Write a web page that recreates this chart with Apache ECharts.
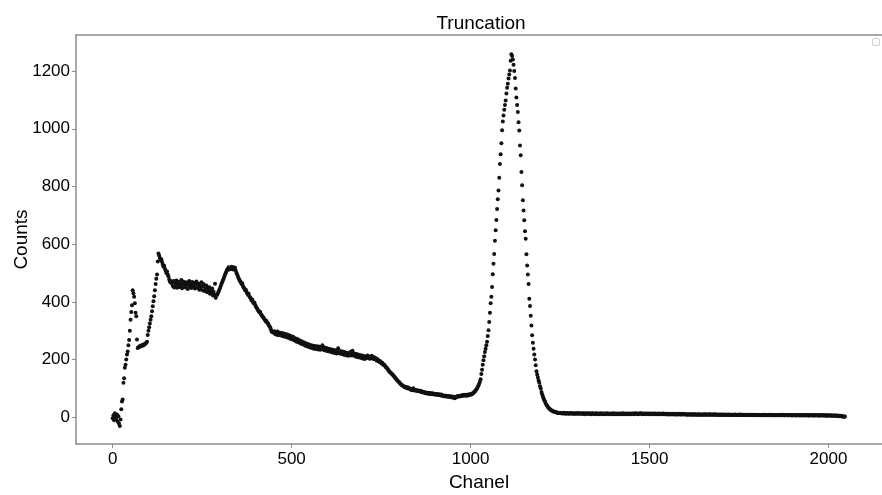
<!DOCTYPE html>
<html>
<head>
<meta charset="utf-8">
<script src="https://cdn.jsdelivr.net/npm/echarts@6/dist/echarts.min.js"></script>
<style>
html,body{margin:0;padding:0;background:#fff;}
#chart{width:882px;height:495px;}
</style>
</head>
<body>
<div id="chart"></div>
<script>
// Channel spacing of the recorded spectrum
const channelStep = 2;

// Counts, segment by segment (start channel + values every 2 channels)
const startA = 0;
const countsA = [-3,6,-10,14,2,-6,10,-15,4,-22,-30,-8,28,55,62,120,135,172,182,200,218,228,250,268,300,338,365,388,440,430,418,395,362,350,270,240,243,244,247,245,249,250,248,252,251,254,256,258,262,285,300,312,325,338,350,368,385,402,420,440,462,480,495,540,568,560,552,545,548,538,530,522,525,515,508,500,505,495,488,478,470,472,465];

const startB = 166;
const countsB = [468,455,472,450,466,458,474,449,462,470,452,465,458,476,447,463,470,455,461,450,468,459,445,466,472,453,460,448,469,457,451,466,446,460,471,449,456,463,442,458,450,468,441,455,462,438,452,444,457,433,448,438,451,428,442,432,446,422,435,426,463,414,424];

const startC = 292;
const countsC = [425,430,436,442,448,455,462,468,475,480,488,495,500,506,512,515,520,512,518,515,522,516,512,520,515,518,508,500,495,488,482,476,472,468,462,465,455,450,446,440,442,435,430,425,428,420,415,412,405,408,400,395,398,390,385,380,376,372,368,364,366,358,355,350,348,344,340,336,332,334,328,325,320,316,312,305,298,295,296,293];

const startD = 452;
const countsD = [298,289,295,286,297,290,284,294,288,291,
283,292,286,280,290,284,278,288,281,276,
285,279,272,282,275,270,279,272,266,274,
268,262,271,264,259,267,261,255,264,257,
252,260,254,248,257,250,245,254,248,243,
251,245,240,249,243,238,247,242,237,246,
240,235,245,239,234,243,237,250,238,233,
242,236,231,240,234,229,238,232,227,236,
230,225,234,228,223,232,226,221,230,239,
226,221,230,224,219,228,222,217,226,220,
215,224,218,213,222,216,226,214,220,231,
218,213,221,215,210,219,213,208,217,211,
206,215,209,204,213,207,202,211,205,209,
214,206,211,203,210,205,213,204,209,202,
207,200,204,197,201,194,197,191,194];

const startE = 750;
const countsE = [190,186,188,183,180,181,176,173,172,167,165,160,158,155,153,150,148,145,142,139,136,133,130,127,124,122,119,116,114,112,110,108,107,104,106,103,101,104,100,102,99];

const startF = 832;
const countsF = [98,95,97,94,101,96,93,95,92,94,91,93,90,92,89,91,87,89,86,88,85,83,86,84,82,85,83,81,84,82,80,83,81,79,82,80,78,81,79,77,80,78,76,79,77,75,73,76,74,72,75,73,71,74,72,70,73,71,69,72,70,68,66,69,71,73,71,74,72,75,73,76,74,77,75,78,76,77,75,78,76,79,77,80,78,81,80,83,85,87,90,93,97,100,105,110,116];

const startG = 1026;
const countsG = [123,132,150,165,182,198,212,226,238,250,262,282,302,330,362,395,418,452,496,532,566,612,648,684,722,756,786,830,878,912,950,995,1025,1046,1066,1082,1098,1122,1142,1156,1174,1188,1202,1236,1258,1252,1240,1222,1200,1176];

const startH = 1126;
const countsH = [1140,1108,1082,1058,1023,994,942,908,850,804,752,717,683,645,619,565,526,495,462,411,386,352,318,284,258,238,218,200,180,160,148,138,128,120,108,100,88,80,72,65,59,54,48,43,40,36,33,30,28,26,24,23,21,20,19,18,18,17,16,16,15,15,15];

const startI = 1252;
const countsI = [14,15,13,14,16,13,14,12,15,13,14,13,12,14,15,13,12,14,13,12,
13,14,12,13,15,12,13,14,12,13,12,14,13,11,13,14,12,13,12,14,
12,13,11,13,14,12,12,13,11,14,12,13,12,11,13,12,14,12,11,13,
12,13,11,12,14,12,11,13,12,12,11,13,12,14,11,12,13,11,12,13,
11,12,13,11,12,12,14,11,13,12,11,12,13,11,12,13,12,11,12,13,
12,13,11,12,14,12,13,12,11,13,12,13,14,12,11,13,12,12,13,11,
12,13,12,11,13,12,12,11,13,12,11,12,13,11,12,11,12,13,11,12,
11,12,11,13,12,11,12,11,12,10,11,12,11,10,12,11,11,12,10,11,
11,10,12,11,10,11,12,10,11,10,11,12,10,11,10,11,10,9,11,10,
10,11,9,10,11,9,10,10,11,9,10,9,10,11,9,10,9,10,9,10,
10,9,11,10,9,10,9,10,11,9,10,9,10,9,10,11,9,9,10,9,
9,10,8,9,10,9,8,10,9,9,8,10,9,8,9,10,8,9,9,8,
9,8,9,10,8,9,8,9,8,9,10,8,9,8,9,8,9,8,8,9,
8,9,8,7,9,8,8,9,7,8,9,8,7,8,9,8,7,8,8,7,
8,7,8,9,7,8,7,8,8,7,8,7,9,8,7,8,7,8,7,8,
7,8,7,8,7,7,8,7,8,9,7,8,7,7,8,7,8,7,7,8,
7,8,7,6,8,7,7,8,6,7,8,7,7,6,8,7,7,6,7,8,
7,6,7,7,8,6,7,6,7,8,6,7,7,6,7,6,7,8,6,7,
6,7,6,7,6,8,6,7,6,6,7,6,5,7,6,6,7,5,6,6,
5,6,6,5,6,5,5,6,4,5,4,5,4,3,4,3,2,3];

// Tick labels
const xTicks = [0, 500, 1000, 1500, 2000];
const yTicks = [0, 200, 400, 600, 800, 1000, 1200];

const segments = [
  [startA, countsA], [startB, countsB], [startC, countsC], [startD, countsD],
  [startE, countsE], [startF, countsF], [startG, countsG], [startH, countsH], [startI, countsI]
];
const points = [];
segments.forEach(([s, arr]) => arr.forEach((v, i) => points.push([s + i * channelStep, v])));

const axisGray = '#8c8c8c';
const font = 'Liberation Sans, Arial, sans-serif';
const plain = v => String(v);
const chart = echarts.init(document.getElementById('chart'), null, {renderer: 'canvas'});
chart.setOption({
  animation: false,
  backgroundColor: '#fff',
  textStyle: {fontFamily: font},
  title: {
    text: 'Truncation',
    left: 476, top: 9, textAlign: 'center',
    textStyle: {fontSize: 19, fontWeight: 'normal', color: '#000', fontFamily: font}
  },
  grid: {left: 76, right: 0, top: 35, bottom: 51, containLabel: false, outerBoundsMode: 'none'},
  xAxis: [{
    type: 'value', position: 'bottom', min: -102.4, max: 2149.4,
    axisLine: {show: true, onZero: false, lineStyle: {color: axisGray, width: 1.5}},
    axisTick: {show: true, length: 4, lineStyle: {color: axisGray, width: 1}, customValues: xTicks},
    axisLabel: {customValues: xTicks, formatter: plain, fontSize: 17, color: '#000', margin: 7},
    splitLine: {show: false},
    name: 'Chanel', nameLocation: 'middle', nameGap: 29, nameMoveOverlap: false,
    nameTextStyle: {fontSize: 19, color: '#000'}
  }, {
    type: 'value', position: 'top', min: -102.4, max: 2149.4,
    axisLine: {show: true, onZero: false, lineStyle: {color: axisGray, width: 1.5}},
    axisTick: {show: false}, axisLabel: {show: false}, splitLine: {show: false}
  }],
  yAxis: {
    type: 'value', min: -92.5, max: 1325,
    axisLine: {show: true, onZero: false, lineStyle: {color: axisGray, width: 1.5}},
    axisTick: {show: true, length: 4, lineStyle: {color: axisGray, width: 1}, customValues: yTicks},
    axisLabel: {customValues: yTicks, formatter: plain, fontSize: 17, color: '#000', margin: 6},
    splitLine: {show: false},
    name: 'Counts', nameLocation: 'middle', nameGap: 45, nameMoveOverlap: false,
    nameTextStyle: {fontSize: 19, color: '#000'}
  },
  graphic: [{
    type: 'rect', left: 872, top: 38,
    shape: {width: 7, height: 7, r: 1.5},
    style: {fill: '#fff', stroke: '#cfcfcf', lineWidth: 1}
  }],
  series: [{
    type: 'scatter', xAxisIndex: 0, data: points,
    symbol: 'circle', symbolSize: 4,
    itemStyle: {color: '#111', opacity: 1}
  }]
});
</script>
</body>
</html>
